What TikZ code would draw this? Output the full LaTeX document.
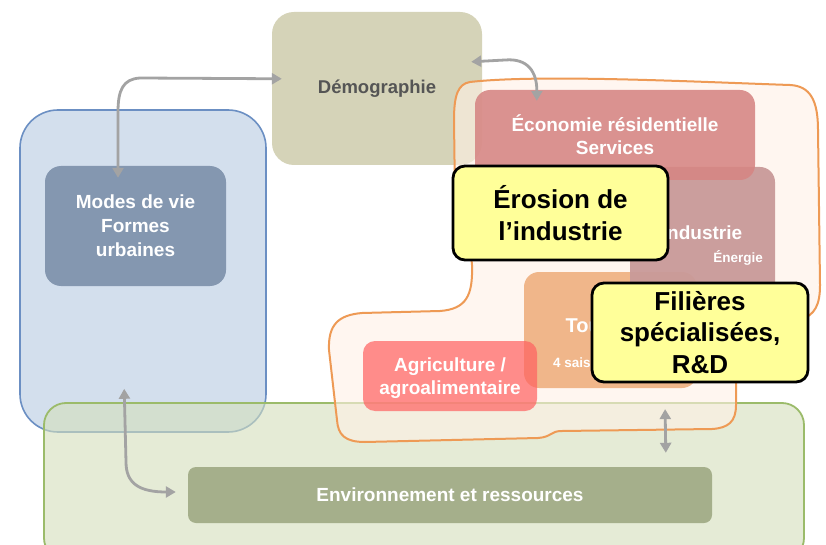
\documentclass[tikz,border=0pt]{standalone}
\usepackage{fontspec}
\setmainfont{Liberation Sans}
\usetikzlibrary{arrows.meta,calc}
\definecolor{demo}{HTML}{D5D3B8}
\definecolor{demotext}{HTML}{555555}
\definecolor{bluefill}{HTML}{D3DFED}
\definecolor{blueline}{HTML}{6B8FC3}
\definecolor{modes}{HTML}{8497B0}
\definecolor{greenfill}{HTML}{D4DFBB}
\definecolor{greenline}{HTML}{9BBB6A}
\definecolor{envfill}{HTML}{A5AF8B}
\definecolor{ecofill}{HTML}{D68583}
\definecolor{indfill}{HTML}{C99A99}
\definecolor{tourfill}{HTML}{F0B68A}
\definecolor{agrifill}{HTML}{FF6060}
\definecolor{yel}{HTML}{FFFF99}
\definecolor{blobline}{HTML}{EE9A55}
\definecolor{blobfill}{HTML}{FFF1E6}
\definecolor{arrowgray}{HTML}{A3A3A3}
\begin{document}
\begin{tikzpicture}[x=1pt,y=-1pt,
  box/.style={inner sep=0pt, align=center, text=white,
    font=\bfseries\fontsize{19}{23}\selectfont},
  note/.style={draw=black, line width=2.8pt, fill=yel, rounded corners=12pt,
    inner sep=0pt, align=center, text=black,
    font=\bfseries\fontsize{26}{31.5}\selectfont},
  lbl/.style={inner sep=0pt, align=center, text=white,
    font=\bfseries\fontsize{19}{23}\selectfont},
  small/.style={inner sep=0pt, text=white, font=\bfseries\fontsize{13.5}{16}\selectfont},
  arr/.style={draw=arrowgray, line width=2.8pt,
    {Triangle[length=10pt,width=11pt]}-{Triangle[length=10pt,width=11pt]}}
]
\useasboundingbox (0,0) rectangle (826,545);
\fill[white] (0,0) rectangle (826,545);

% Demographie
\node[box, fill=demo, rounded corners=22pt, minimum width=210pt, minimum height=153pt,
  text=demotext, font=\bfseries\fontsize{18.5}{22}\selectfont] (dem) at (377,88.5) {Démographie};

% Blue group
\node[box, draw=blueline, line width=1.6pt, fill=bluefill, rounded corners=38pt,
  minimum width=246pt, minimum height=322pt] (blue) at (143,271) {};
\node[box, fill=modes, rounded corners=16pt, minimum width=181pt, minimum height=120pt,
  font=\bfseries\fontsize{19}{24}\selectfont] (modes) at (135.5,226) {Modes de vie\\Formes\\urbaines};

% Green group
\node[box, draw=greenline, line width=1.8pt, fill=greenfill, fill opacity=0.6,
  rounded corners=22pt, minimum width=760pt, minimum height=157pt] (green) at (424,481.5) {};
\node[box, fill=envfill, rounded corners=8pt, minimum width=524pt, minimum height=56pt] (env)
  at (450,495) {Environnement et ressources};

% Orange blob
\draw[draw=blobline, line width=2pt, fill=blobfill, fill opacity=0.6]
  (470,82) .. controls (540,74) and (700,82) .. (790,85)
  .. controls (810,86) and (818,100) .. (818,130)
  -- (820,285)
  .. controls (820,305) and (815,315) .. (800,320)
  .. controls (760,332) and (737,345) .. (736,380)
  -- (736,405)
  .. controls (736,422) and (728,428) .. (712,429)
  -- (562,431)
  .. controls (550,431) and (552,437) .. (538,438)
  -- (365,442)
  .. controls (345,442) and (338,435) .. (337,420)
  -- (329,350)
  .. controls (328,325) and (338,315) .. (362,313)
  -- (440,311)
  .. controls (466,309) and (473,296) .. (472,265)
  .. controls (471,245) and (456,235) .. (455,200)
  -- (454,120)
  .. controls (454,95) and (458,84) .. (470,82) -- cycle;

% Economic boxes
\node[box, fill=tourfill, rounded corners=15pt, minimum width=173pt, minimum height=116pt] (tour) at (610.5,330) {};
\node[lbl, font=\bfseries\fontsize{20}{24}\selectfont] (tourtxt) at (610,325) {Tourisme};
\node[small, anchor=west] (saisons) at (553,363) {4 saisons};

\node[box, fill=indfill, fill opacity=0.95, text opacity=1, rounded corners=15pt, minimum width=145pt, minimum height=133pt] (ind) at (702.5,233.5) {};
\node[lbl] (indtxt) at (702,233) {Industrie};
\node[small] (energie) at (738,258) {Énergie};

\node[box, fill=ecofill, fill opacity=0.88, text opacity=1, rounded corners=15pt, minimum width=280pt, minimum height=90pt]
  (eco) at (615,135) {Économie résidentielle\\Services};

\node[box, fill=agrifill, fill opacity=0.7, text opacity=1, rounded corners=12pt, minimum width=174pt, minimum height=70pt] (agri) at (450,376) {};
\node[lbl] (agritxt) at (450,378) {Agriculture /\\agroalimentaire};

% Arrows
\draw[arr] ($(dem.north west)+(10,67)$) -- (140,78)
  .. controls (123,79) and (118,90) .. (118,112) -- ($(modes.north)+(-17.5,12)$);
\draw[arr] ($(dem.north east)+(-11,50)$) -- (505,60)
  .. controls (528,58) and (537,72) .. ($(eco.north west)+(62,11)$);
\draw[arr] ($(blue.south west)+(105,-44)$) -- (126,462)
  .. controls (126,484) and (140,492) .. ($(env.west)+(-12,-3)$);
\draw[arr] ($(green.north west)+(622,7)$) -- ($(env.north west)+(478,-14)$);

% Notes
\node[note, minimum width=215pt, minimum height=94pt] (erosion) at (560.5,213) {Érosion de\\l’industrie};
\node[note, minimum width=216pt, minimum height=99pt] (filieres) at (700,332.5) {Filières\\spécialisées,\\R\&D};
\end{tikzpicture}
\end{document}
